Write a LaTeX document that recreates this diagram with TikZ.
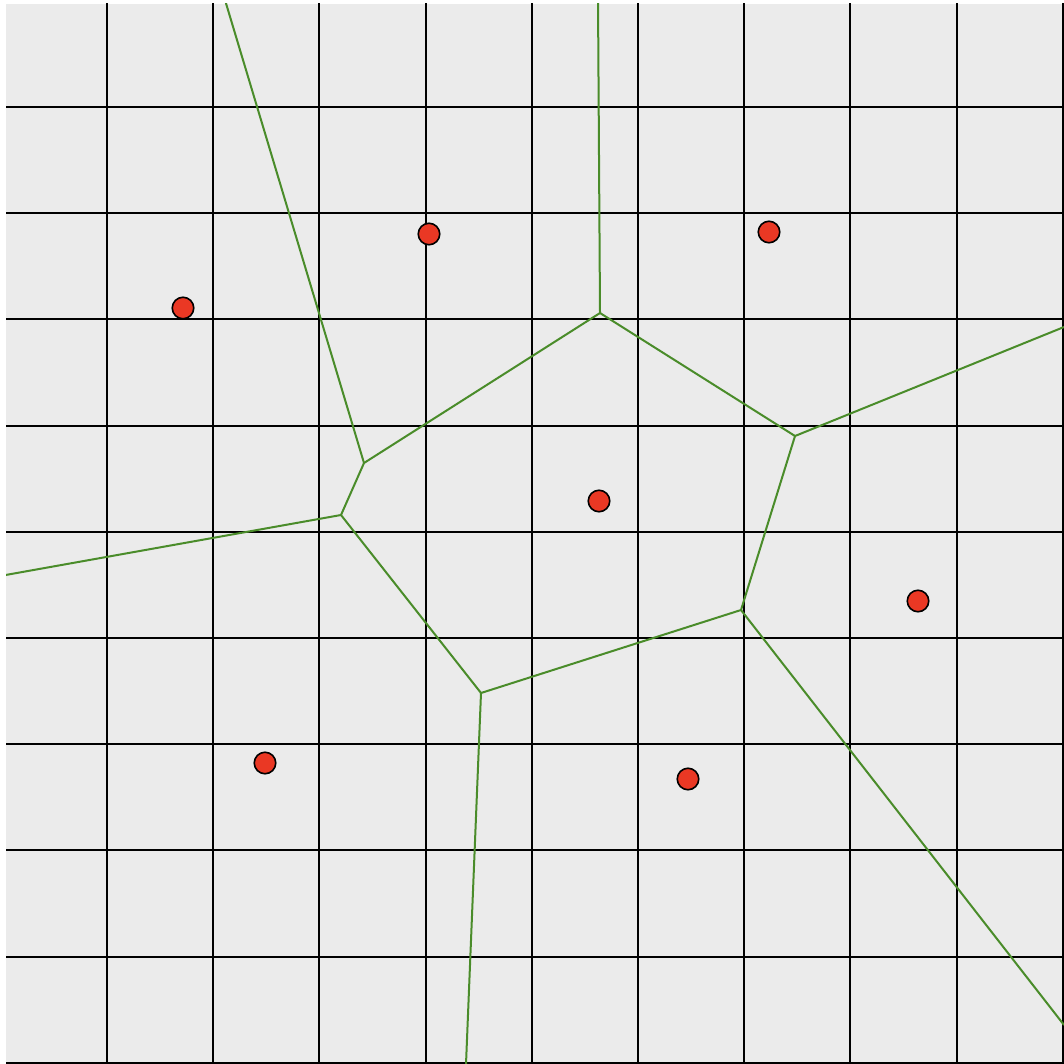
\documentclass[tikz,border=0pt]{standalone}
\definecolor{bggray}{RGB}{235,235,235}
\definecolor{vgreen}{RGB}{74,140,42}
\definecolor{dotred}{RGB}{234,56,36}
\begin{document}
\begin{tikzpicture}[x=1pt,y=-1pt,
  gridline/.style={black,line width=2pt},
  vedge/.style={vgreen,line width=2pt},
  site/.style={circle,fill=dotred,draw=black,line width=1.6pt,minimum size=21.5pt,inner sep=0pt}]
\useasboundingbox (0,0) rectangle (1064,1064);
\fill[white] (0,0) rectangle (1064,1064);
\begin{scope}
\clip (6,4) rectangle (1064,1064);
\fill[bggray] (6,4) rectangle (1064,1064);
\foreach \p in {107,213,319,426,532,638,744,850,957,1063} {
  \draw[gridline] (\p,0) -- (\p,1064);
  \draw[gridline] (0,\p) -- (1064,\p);
}
% Voronoi vertices
\coordinate (A) at (364,463);
\coordinate (B) at (341,515);
\coordinate (C) at (600,313);
\coordinate (D) at (795,436);
\coordinate (E) at (741,610);
\coordinate (F) at (481,693);
% free ends
\coordinate (tA) at (225,0);
\coordinate (tC) at (598,0);
\coordinate (lB) at (0,576);
\coordinate (rD) at (1064,327);
\coordinate (bF) at (466,1064);
\coordinate (bE) at (1064,1025);
\draw[vedge] (tA) -- (A);
\draw[vedge] (A) -- (B);
\draw[vedge] (lB) -- (B);
\draw[vedge] (A) -- (C);
\draw[vedge] (tC) -- (C);
\draw[vedge] (C) -- (D);
\draw[vedge] (rD) -- (D);
\draw[vedge] (D) -- (E);
\draw[vedge] (E) -- (F);
\draw[vedge] (F) -- (B);
\draw[vedge] (bF) -- (F);
\draw[vedge] (E) -- (bE);
\end{scope}
\node[site] (s1) at (183,308) {};
\node[site] (s2) at (429,234) {};
\node[site] (s3) at (769,232) {};
\node[site] (s4) at (599,501) {};
\node[site] (s5) at (918,601) {};
\node[site] (s6) at (265,763) {};
\node[site] (s7) at (688,779) {};
\end{tikzpicture}
\end{document}
